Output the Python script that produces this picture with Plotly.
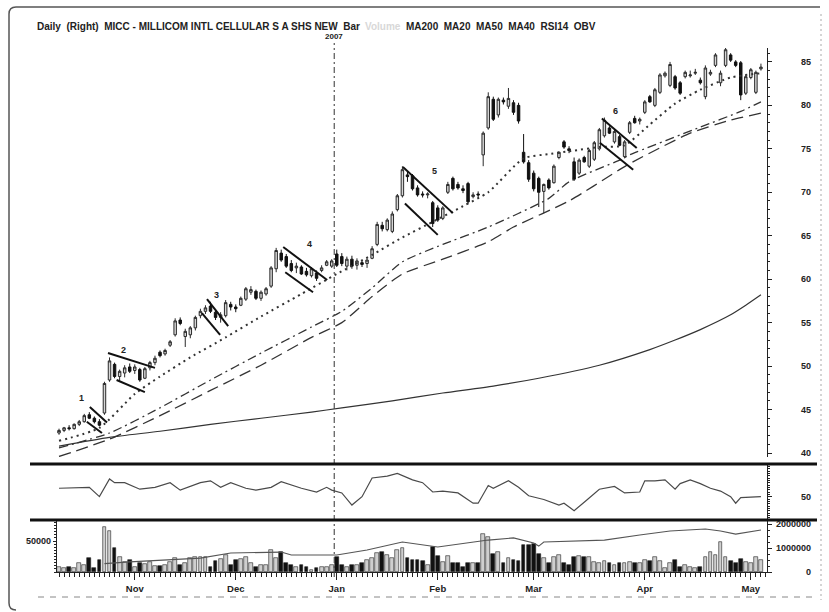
import pandas as pd
import plotly.graph_objects as go
from plotly.subplots import make_subplots

# ---- sessions (trading days as they appear on the chart's time axis) ----
HOLIDAYS = ["2006-11-23", "2006-11-24", "2006-12-25", "2007-01-01",
            "2007-01-02", "2007-01-15", "2007-02-19"]
sessions = pd.bdate_range("2006-10-11", "2007-05-03", freq="C", holidays=HOLIDAYS)
bars = list(range(len(sessions)))
MONTHS = ["Nov", "Dec", "Jan", "Feb", "Mar", "Apr", "May"]

# ---- daily OHLC --------------------------------------------------------
opens = [42.3, 42.6, 42.9, 42.8, 43.3, 43.6, 44.4, 44.0, 43.6, 44.6,
         48.4, 50.2, 48.8, 49.2, 49.9, 49.5, 49.6, 48.6, 49.8, 50.4,
         51.6, 51.4, 52.4, 53.6, 55.3, 53.4, 53.6, 54.4, 55.8, 56.3,
         56.9, 56.2, 55.6, 55.8, 57.1, 56.8, 57.0, 57.7, 58.5, 58.6,
         57.8, 58.3, 59.2, 61.2, 63.0, 62.6, 61.8, 61.3, 61.4, 60.9,
         60.4, 60.7, 61.0, 61.6, 61.5, 62.9, 62.6, 61.5, 62.3, 61.6,
         61.9, 61.8, 62.4, 64.0, 66.2, 65.7, 65.5, 68.0, 69.6, 72.0,
         71.9, 70.5, 69.8, 69.7, 68.8, 68.2, 67.0, 70.0, 71.6, 70.9,
         70.4, 71.0, 69.5, 69.8, 74.3, 77.4, 80.7, 78.9, 80.6, 79.9,
         80.3, 80.0, 74.6, 73.4, 72.2, 71.6, 70.1, 71.4, 71.1, 74.0,
         75.8, 75.0, 73.5, 72.2, 74.0, 73.0, 73.8, 75.0, 76.5, 77.4,
         75.8, 76.4, 74.1, 76.9, 78.5, 78.2, 79.2, 81.0, 80.0, 81.5,
         83.4, 82.3, 83.3, 82.6, 83.3, 83.4, 83.7, 82.9, 81.0, 83.6,
         84.6, 82.6, 84.6, 85.8, 85.0, 84.9, 81.4, 83.2, 81.5, 84.2]
highs = [42.8, 43.0, 43.2, 43.4, 43.8, 44.5, 44.7, 44.2, 43.9, 48.2,
         51.0, 50.4, 49.6, 50.1, 50.3, 50.2, 49.8, 49.9, 50.6, 51.2,
         51.8, 52.0, 53.0, 55.5, 55.6, 54.3, 54.6, 55.8, 56.6, 57.0,
         57.4, 56.5, 56.2, 57.6, 57.4, 57.1, 58.0, 59.1, 59.2, 58.8,
         58.7, 59.1, 61.5, 63.6, 63.4, 62.9, 62.2, 61.9, 61.6, 61.3,
         61.4, 61.0, 61.6, 62.2, 62.3, 63.4, 63.0, 62.6, 62.7, 62.4,
         62.2, 62.4, 63.8, 66.6, 66.6, 67.0, 67.8, 69.8, 73.0, 72.4,
         72.1, 70.8, 70.1, 70.0, 69.0, 68.5, 68.4, 71.2, 71.8, 71.2,
         70.8, 71.2, 70.0, 70.1, 77.0, 81.5, 81.0, 80.9, 80.9, 82.0,
         80.6, 80.3, 76.7, 73.7, 72.5, 71.8, 71.0, 71.6, 73.2, 74.7,
         76.0, 75.3, 74.0, 73.9, 74.2, 75.0, 75.9, 77.4, 78.6, 77.6,
         77.2, 76.6, 76.0, 78.2, 78.8, 78.6, 80.6, 81.2, 82.0, 83.7,
         83.9, 85.0, 83.5, 82.8, 84.0, 84.0, 84.2, 83.2, 84.6, 84.1,
         86.0, 84.0, 86.6, 86.0, 85.2, 85.1, 83.5, 84.3, 84.0, 84.8]
lows = [42.1, 42.4, 42.6, 42.7, 43.1, 43.5, 43.9, 43.4, 43.1, 44.4,
        48.2, 48.6, 48.3, 48.7, 49.2, 49.1, 48.2, 48.5, 49.5, 50.1,
        51.0, 51.2, 52.2, 53.4, 54.7, 52.2, 53.2, 54.1, 55.5, 56.0,
        56.1, 55.3, 55.0, 55.6, 56.4, 56.2, 56.9, 57.5, 58.2, 57.6,
        57.5, 58.1, 59.0, 60.8, 62.0, 61.3, 60.8, 60.7, 60.5, 60.3,
        60.2, 59.8, 60.8, 61.5, 61.3, 61.4, 61.5, 61.0, 61.2, 61.1,
        61.4, 61.3, 62.3, 63.8, 65.5, 65.5, 65.3, 67.8, 69.4, 71.2,
        70.2, 69.5, 69.4, 69.3, 66.0, 66.6, 66.8, 69.8, 70.2, 70.3,
        69.9, 68.7, 69.3, 69.4, 73.0, 77.2, 78.2, 78.6, 80.1, 79.6,
        78.9, 77.9, 73.3, 71.2, 70.1, 68.3, 67.6, 70.3, 71.0, 73.8,
        75.0, 74.5, 71.3, 72.0, 73.4, 72.8, 73.6, 74.8, 76.3, 76.7,
        75.6, 75.3, 73.9, 76.7, 77.9, 77.8, 79.0, 80.3, 79.8, 81.3,
        83.2, 82.1, 81.8, 81.2, 83.1, 83.2, 83.5, 82.4, 80.7, 83.4,
        84.4, 82.2, 84.4, 85.0, 84.4, 80.6, 81.2, 83.0, 81.3, 84.0]
closes = [42.6, 42.9, 42.8, 43.3, 43.6, 44.3, 44.0, 43.6, 43.2, 48.0,
          50.6, 48.8, 49.4, 49.8, 49.4, 49.9, 48.4, 49.7, 50.4, 50.9,
          51.2, 51.8, 52.8, 55.2, 54.9, 54.0, 54.4, 55.6, 56.3, 56.7,
          56.3, 55.6, 55.9, 57.3, 56.8, 56.6, 57.8, 58.9, 58.8, 57.8,
          58.5, 58.9, 61.3, 63.3, 62.2, 61.5, 61.0, 61.5, 60.6, 60.5,
          61.2, 60.1, 61.3, 62.0, 62.1, 61.6, 61.8, 62.3, 61.5, 62.1,
          61.7, 62.2, 63.5, 66.3, 65.8, 66.8, 67.5, 69.6, 72.6, 71.8,
          70.4, 69.7, 69.7, 69.8, 66.4, 66.8, 68.2, 70.9, 70.4, 70.5,
          70.2, 68.9, 69.7, 69.7, 76.8, 81.0, 78.4, 80.7, 80.4, 80.8,
          79.2, 78.2, 73.5, 71.5, 70.4, 70.0, 70.9, 70.5, 73.0, 74.6,
          75.2, 74.8, 71.5, 73.7, 73.5, 74.8, 75.7, 77.2, 78.3, 76.8,
          77.0, 75.4, 75.8, 78.0, 78.0, 78.4, 80.4, 80.4, 81.8, 83.5,
          83.7, 84.7, 82.0, 81.4, 83.8, 83.5, 83.8, 82.6, 84.3, 83.8,
          85.8, 83.7, 86.4, 85.2, 84.6, 81.2, 83.3, 84.1, 83.8, 84.4]

volume = [8000, 7000, 7500, 6500, 14500, 11000, 22600, 6000, 19000, 72000,
          66600, 39000, 24000, 16000, 19400, 8600, 14000, 13000, 16600, 10000,
          10000, 11300, 16600, 22000, 11300, 15000, 22000, 24700, 24700, 23700,
          8600, 18300, 21000, 27400, 12000, 19400, 21000, 23700, 14000, 8600,
          11300, 12000, 35500, 22000, 32800, 14000, 12000, 8600, 11300, 8600,
          4000, 6000, 7500, 8600, 12000, 24700, 11300, 8600, 11300, 11300,
          14000, 19400, 22000, 30100, 32800, 27400, 22000, 35500, 38200, 22000,
          19400, 19400, 18300, 11300, 40800, 25800, 16600, 25800, 14000, 14000,
          8600, 14000, 15000, 15000, 60800, 57000, 29000, 32800, 14000, 22000,
          19400, 18300, 43500, 43500, 45200, 29000, 22000, 15000, 23700, 27400,
          14000, 11300, 23700, 25800, 23700, 24700, 16600, 15000, 18300, 15000,
          11300, 14000, 14000, 16600, 14000, 15000, 19400, 18300, 24700, 18300,
          6000, 14000, 19400, 8600, 11300, 7500, 6000, 7500, 23700, 32800,
          27400, 48900, 24700, 18300, 14000, 21000, 16600, 14000, 24700, 19400]

# ---- indicator lines, sampled at session numbers -----------------------
ma20_bar = [0, 8, 15, 20, 26, 33, 40, 48, 55, 62, 68, 74, 80, 85, 92, 97,
            102, 107, 112, 117, 122, 127, 133, 139]
ma20_val = [41.4, 42.9, 46.8, 48.8, 51.0, 53.3, 55.7, 58.3, 60.6, 62.8, 64.8,
            66.6, 68.4, 70.0, 73.9, 74.4, 74.8, 75.2, 75.4, 77.8, 80.2, 81.8,
            83.2, 83.7]
ma40_bar = [0, 10, 20, 30, 40, 50, 56, 62, 68, 76, 85, 97, 101, 111, 113,
            127, 135, 139]
ma40_val = [40.6, 42.3, 45.2, 48.4, 51.5, 54.5, 56.3, 59.0, 62.0, 64.0, 66.0,
            69.3, 71.2, 73.7, 74.3, 77.5, 79.3, 80.4]
ma50_bar = [0, 10, 20, 30, 40, 50, 56, 62, 68, 76, 85, 90, 101, 111, 113,
            125, 133, 139]
ma50_val = [39.6, 41.6, 44.3, 47.2, 50.1, 53.3, 55.0, 58.0, 60.6, 62.3, 64.3,
            66.0, 69.0, 72.6, 73.3, 76.8, 78.3, 79.1]
ma200_bar = [0, 10, 20, 30, 40, 50, 56, 66, 76, 86, 95, 107, 117, 122, 127,
             133, 136, 139]
ma200_val = [40.8, 41.8, 42.5, 43.3, 44.0, 44.7, 45.2, 46.0, 46.9, 47.7, 48.6,
             50.1, 51.9, 53.0, 54.2, 55.9, 57.0, 58.2]

rsi_bar = [0, 6, 8, 10, 11, 13, 16, 19, 22, 24, 28, 30, 32, 34, 37, 39, 42, 44,
           48, 51, 53, 54, 56, 58, 60, 62, 65, 67, 70, 72, 74, 76, 79, 82, 83,
           85, 86, 89, 91, 93, 96, 99, 100, 102, 104, 107, 110, 112, 115, 116,
           118, 120, 122, 123, 125, 127, 129, 131, 133, 134, 135, 138, 139]
rsi_val = [59, 60, 50, 69, 65, 65, 58, 60, 65, 57, 65, 67, 60, 65, 59, 57, 60,
           66, 59, 55, 60, 57, 54, 41, 50, 70, 72, 75, 68, 65, 55, 56, 54, 43,
           43, 62, 59, 67, 60, 51, 47, 41, 43, 35, 44, 58, 61, 54, 55, 67, 67,
           68, 58, 64, 68, 64, 59, 56, 50, 43, 49, 50, 50]

obv_bar = [9, 14, 28, 34, 44, 46, 55, 61, 68, 72, 75, 85, 90, 94, 95, 96, 108,
           115, 121, 128, 131, 134, 139]
obv_val = [350000, 420000, 580000, 790000, 830000, 710000, 710000, 920000,
           1250000, 1120000, 1040000, 1330000, 1420000, 1210000, 1080000,
           1250000, 1330000, 1540000, 1710000, 1790000, 1710000, 1580000,
           1750000]

# ---- pattern annotations: flag number label and its two channel lines --
flag_labels = ["1", "2", "3", "4", "5", "6"]
flag_label_bar = [4.5, 12.7, 31.1, 49.7, 74.3, 110.1]
flag_label_price = [46.3, 51.9, 58.2, 64.0, 72.4, 79.4]
flag_lines = [  # (bar0, price0, bar1, price1)
    (6.1, 45.3, 9.5, 43.5), (5.5, 43.6, 8.5, 42.3),
    (9.7, 51.5, 19.0, 49.8), (11.4, 48.4, 17.0, 47.0),
    (29.3, 57.7, 33.5, 54.6), (28.3, 56.1, 31.9, 53.6),
    (44.4, 63.7, 53.1, 59.9), (44.8, 60.8, 50.3, 58.5),
    (68.1, 72.9, 78.0, 67.6), (68.5, 68.7, 75.0, 65.1),
    (107.5, 78.5, 114.4, 75.1), (107.1, 75.7, 113.7, 72.6),
]

price_ticks = [40, 45, 50, 55, 60, 65, 70, 75, 80, 85]
rsi_ticks = [50]
obv_ticks = [0, 1000000, 2000000]
vol_ticks = [50000]

# ---- geometry helpers (pixel -> paper) ---------------------------------
L, R, T, B = 57, 767, 48, 572
def fx(px): return (px - L) / (R - L)
def fy(py): return (B - py) / (B - T)

INK = "#222222"
FONT = "Liberation Sans"

fig = make_subplots(rows=3, cols=1, shared_xaxes=True,
                    specs=[[{}], [{}], [{"secondary_y": True}]])

fig.add_trace(go.Candlestick(
    x=bars, open=opens, high=highs, low=lows, close=closes,
    increasing=dict(line=dict(color="#2a2a2a", width=1), fillcolor="#d6d6d6"),
    decreasing=dict(line=dict(color="#111111", width=1), fillcolor="#111111"),
    whiskerwidth=0, showlegend=False, hoverinfo="skip",
), row=1, col=1)

for bx, vy, dash, w in [
    (ma20_bar, ma20_val, "2px,4px", 2.0),
    (ma40_bar, ma40_val, "9px,4px,2px,4px", 1.3),
    (ma50_bar, ma50_val, "12px,6px", 1.3),
    (ma200_bar, ma200_val, "solid", 1.2),
]:
    fig.add_trace(go.Scatter(
        x=bx, y=vy, mode="lines", showlegend=False, hoverinfo="skip",
        line=dict(color="#333333", width=w, dash=dash, shape="spline", smoothing=0.6),
    ), row=1, col=1)

fig.add_trace(go.Scatter(
    x=rsi_bar, y=rsi_val, mode="lines", showlegend=False, hoverinfo="skip",
    line=dict(color="#4a4a4a", width=1.2),
), row=2, col=1)

vol_colors = ["#111111" if c < o else "#cfcfcf" for o, c in zip(opens, closes)]
fig.add_trace(go.Bar(
    x=bars, y=volume, width=0.75, showlegend=False, hoverinfo="skip",
    marker=dict(color=vol_colors, line=dict(color="#222222", width=0.6)),
), row=3, col=1, secondary_y=False)

fig.add_trace(go.Scatter(
    x=obv_bar, y=obv_val, mode="lines", showlegend=False, hoverinfo="skip",
    line=dict(color="#555555", width=1.1),
), row=3, col=1, secondary_y=True)

# ---- axes -----------------------------------------------------------------
month_starts = [i for i in range(1, len(sessions))
                if sessions[i].month != sessions[i - 1].month]
year_break = next(i for i in bars if sessions[i].year == 2007) - 0.5
xr = [-0.4, 140.2]

hidden_x = dict(domain=[0, 1], range=xr, showticklabels=False, ticks="",
                showline=False, showgrid=False, zeroline=False, automargin=False)
fig.update_layout(
    template="none",
    xaxis=hidden_x, xaxis2=hidden_x,
    xaxis3=dict(domain=[0, 1], range=xr, tickmode="array", tickvals=month_starts,
                ticktext=MONTHS, ticks="outside", ticklen=7, tickcolor=INK,
                showline=True, linecolor=INK, linewidth=1.2, showgrid=False,
                zeroline=False, automargin=False,
                tickfont=dict(size=9.5, color=INK, family=FONT, weight="bold"),
                minor=dict(tickmode="linear", tick0=0, dtick=1, ticklen=4,
                           ticks="outside", tickcolor=INK)),
    xaxis_rangeslider_visible=False,
    yaxis=dict(domain=[fy(457), 1.0], range=[39.54, 86.6], side="right",
               showline=True, linecolor=INK, linewidth=1.3, ticks="outside",
               ticklen=4, tickcolor=INK, tickvals=price_ticks, showticklabels=False,
               showgrid=False, zeroline=False, automargin=False,
               minor=dict(tickmode="linear", dtick=1, ticklen=2, ticks="outside",
                          tickcolor=INK)),
    yaxis2=dict(domain=[fy(520), fy(464)], range=[25, 85], side="right",
                showline=True, linecolor=INK, linewidth=1.3, ticks="outside",
                ticklen=4, tickcolor=INK, tickvals=rsi_ticks, showticklabels=False,
                showgrid=False, zeroline=False, automargin=False,
                minor=dict(tickmode="linear", dtick=2.5, ticklen=2, ticks="outside",
                           tickcolor=INK)),
    yaxis3=dict(domain=[0, fy(521)], range=[0, 82300], side="left",
                showline=True, linecolor=INK, linewidth=1.2, ticks="outside",
                ticklen=3, tickcolor=INK, tickmode="array", tickvals=vol_ticks,
                ticktext=[str(v) for v in vol_ticks], showgrid=False,
                zeroline=False, automargin=False,
                tickfont=dict(size=9, color=INK, family=FONT, weight="bold"),
                minor=dict(tickmode="linear", dtick=5000, ticklen=2,
                           ticks="outside", tickcolor=INK)),
    yaxis4=dict(range=[0, 2125000], side="right", showline=True, linecolor=INK,
                linewidth=1.2, ticks="outside", ticklen=4, tickcolor=INK,
                tickvals=obv_ticks, showticklabels=False, showgrid=False,
                zeroline=False, automargin=False,
                minor=dict(tickmode="linear", dtick=250000, ticklen=2,
                           ticks="outside", tickcolor=INK)),
)

# ---- annotations ----------------------------------------------------------
ann = []
lab = dict(size=9, color=INK, family=FONT, weight="bold")
for v in price_ticks:
    ann.append(dict(x=fx(813), xref="paper", y=v, yref="y", text=str(v),
                    xanchor="right", yanchor="middle", showarrow=False, font=lab))
for v in rsi_ticks:
    ann.append(dict(x=fx(813), xref="paper", y=v, yref="y2", text=str(v),
                    xanchor="right", yanchor="middle", showarrow=False, font=lab))
for v in obv_ticks:
    ann.append(dict(x=fx(813), xref="paper", y=v, yref="y4", text=str(v),
                    xanchor="right", yanchor="middle", showarrow=False, font=lab))
for t, bx, py in zip(flag_labels, flag_label_bar, flag_label_price):
    ann.append(dict(x=bx, y=py, xref="x", yref="y", text=t, showarrow=False,
                    font=dict(size=9, color=INK, family=FONT, weight="bold")))

head = dict(size=10, family=FONT, weight="bold")
for px, txt, col in [
    (35, "Daily  (Right)  MICC - MILLICOM INTL CELLULAR S A SHS NEW  Bar", INK),
    (363, "Volume", "#d8d8d8"),
    (404, "MA200  MA20  MA50  MA40  RSI14  OBV", INK),
]:
    ann.append(dict(x=fx(px), y=fy(27), xref="paper", yref="paper", xanchor="left",
                    yanchor="middle", showarrow=False, text=txt,
                    font=dict(color=col, **head)))
ann.append(dict(x=year_break, y=fy(37), xref="x", yref="paper", text="2007",
                yanchor="middle", showarrow=False,
                font=dict(size=8, color=INK, family=FONT, weight="bold")))

# ---- shapes ---------------------------------------------------------------
shapes = []
for b0, p0, b1, p1 in flag_lines:
    shapes.append(dict(type="line", xref="x", yref="y", x0=b0, y0=p0, x1=b1, y1=p1,
                       line=dict(color="#111111", width=2)))
shapes.append(dict(type="line", xref="x", yref="paper", x0=year_break, x1=year_break,
                   y0=fy(577), y1=fy(43),
                   line=dict(color="#444444", width=1.1, dash="6px,3px,2px,3px")))
for py in (464, 520):
    shapes.append(dict(type="line", xref="paper", yref="paper", x0=fx(30), x1=fx(817),
                       y0=fy(py), y1=fy(py), line=dict(color="#111111", width=3)))
frame = (f"M {fx(820)},{fy(7)} L {fx(16)},{fy(7)} Q {fx(9)},{fy(7)} {fx(9)},{fy(14)} "
         f"L {fx(9)},{fy(603)} Q {fx(9)},{fy(610)} {fx(16)},{fy(610)}")
shapes.append(dict(type="path", xref="paper", yref="paper", path=frame,
                   line=dict(color="#555555", width=1.5)))
shapes.append(dict(type="line", xref="paper", yref="paper", x0=fx(38), x1=fx(818),
                   y0=fy(597), y1=fy(597), line=dict(color="#888888", width=1, dash="6px,6px")))
shapes.append(dict(type="line", xref="paper", yref="paper", x0=fx(821), x1=fx(821),
                   y0=fy(14), y1=fy(600), line=dict(color="#aaaaaa", width=1, dash="2px,3px")))

fig.update_layout(
    width=829, height=612,
    margin=dict(l=L, r=829 - R, t=T, b=612 - B, pad=0),
    paper_bgcolor="white", plot_bgcolor="white",
    showlegend=False, bargap=0,
    font=dict(family=FONT, color=INK),
    annotations=ann, shapes=shapes,
)

fig.write_html("out.html", config={"displayModeBar": False},
               post_script="document.body.style.margin = '0';")
